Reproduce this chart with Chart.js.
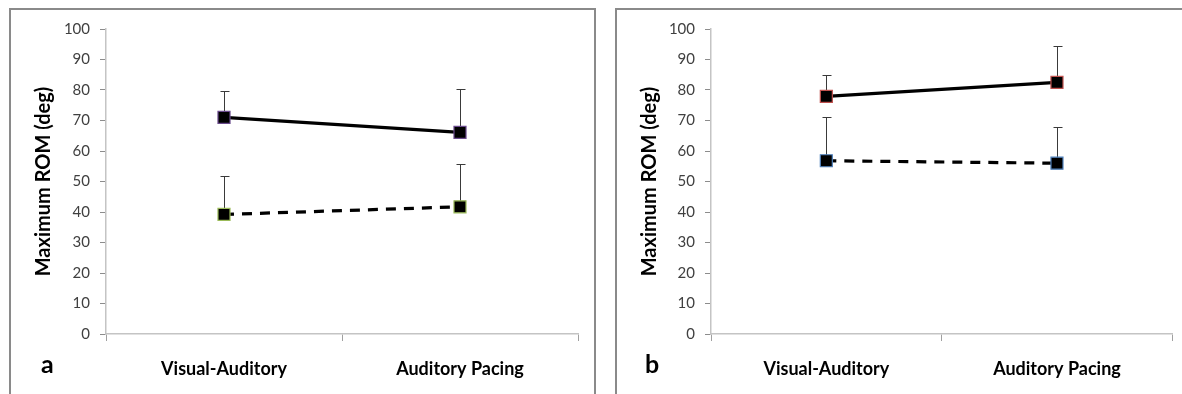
<!DOCTYPE html>
<html lang="en">
<head>
  <meta charset="UTF-8" />
  <title>Maximum ROM</title>
  <script src="https://cdn.jsdelivr.net/npm/chart.js"></script>
  <style>
    body {
      margin: 0;
      width: 1182px;
      height: 394px;
      overflow: hidden;
      background: #ffffff;
      font-family: Lato, "Open Sans", sans-serif;
      position: relative;
    }

    .panel {
      position: absolute;
      top: 8px;
      height: 400px;
      border-top: 2px solid #8a8a8a;
      border-left: 2px solid #8a8a8a;
      box-sizing: border-box;
    }

    #panelA { left: 9px; width: 587px; border-right: 2px solid #8a8a8a; }
    #panelB { left: 615px; width: 580px; }

    canvas { position: absolute; }
    #chartA { left: 12px; top: 10px; }
    #chartB { left: 618px; top: 10px; }

    .tag {
      position: absolute;
      font-weight: bold;
      font-size: 25px;
      color: #000;
      top: 348px;
    }
  </style>
</head>
<body>
  <div class="panel" id="panelA"></div>
  <div class="panel" id="panelB"></div>
  <canvas id="chartA" width="583" height="384"></canvas>
  <canvas id="chartB" width="564" height="384"></canvas>
  <div class="tag" style="left: 41px;">a</div>
  <div class="tag" style="left: 645px;">b</div>

  <script>
    const conditions = ['Visual-Auditory', 'Auditory Pacing'];
    const yTitle = 'Maximum ROM (deg)';

    // panel a
    const aSolid = [71.0, 66.1];
    const aSolidSd = [8.8, 14.1];
    const aDashed = [39.2, 41.7];
    const aDashedSd = [12.7, 14.0];

    // panel b
    const bSolid = [77.9, 82.5];
    const bSolidSd = [6.9, 12.0];
    const bDashed = [56.8, 56.0];
    const bDashedSd = [14.2, 11.9];

    // upward-only error bars, drawn under the markers
    const errorBars = {
      id: 'errorBars',
      beforeDatasetsDraw(chart) {
        const ctx = chart.ctx;
        const yScale = chart.scales.y;
        chart.data.datasets.forEach((ds, i) => {
          chart.getDatasetMeta(i).data.forEach((pt, j) => {
            const top = Math.round(yScale.getPixelForValue(ds.data[j] + ds.errors[j])) + 0.5;
            const x = Math.round(pt.x) + 0.5;
            ctx.save();
            ctx.strokeStyle = '#3a3a3a';
            ctx.lineWidth = 1;
            ctx.beginPath();
            ctx.moveTo(x, pt.y);
            ctx.lineTo(x, top);
            ctx.moveTo(x - 4, top);
            ctx.lineTo(x + 5, top);
            ctx.stroke();
            ctx.restore();
          });
        });
      }
    };

    function makeChart(id, solid, solidSd, dashed, dashedSd, solidEdge, dashedEdge, yWidth, rightPad) {
      return new Chart(document.getElementById(id).getContext('2d'), {
        type: 'line',
        data: {
          labels: conditions,
          datasets: [
            {
              data: solid, errors: solidSd,
              borderColor: '#000', borderWidth: 3.2,
              pointStyle: 'rect', pointRadius: 8.5,
              pointBackgroundColor: '#000', pointBorderColor: solidEdge, pointBorderWidth: 1.2
            },
            {
              data: dashed, errors: dashedSd,
              borderColor: '#000', borderWidth: 3.2, borderDash: [10, 8],
              pointStyle: 'rect', pointRadius: 8.5,
              pointBackgroundColor: '#000', pointBorderColor: dashedEdge, pointBorderWidth: 1.2
            }
          ]
        },
        options: {
          responsive: false,
          animation: false,
          layout: { padding: { left: 0, right: rightPad, top: 19, bottom: 0 } },
          plugins: { legend: { display: false }, tooltip: { enabled: false } },
          scales: {
            x: {
              offset: true,
              grid: { offset: true, drawOnChartArea: false, tickLength: 7, color: '#a0a0a0' },
              border: { color: '#c4c4c4', width: 1.5 },
              ticks: { padding: 17, color: '#000', font: { family: 'Lato', size: 18, weight: 'bold' } },
              afterFit: s => { s.height = 60; }
            },
            y: {
              min: 0, max: 100,
              ticks: { stepSize: 10, padding: 10, color: '#404040', font: { family: 'Lato', size: 15 } },
              grid: { drawOnChartArea: false, tickLength: 6, color: '#8c8c8c' },
              border: { color: '#c4c4c4', width: 1.5 },
              title: {
                display: true, text: yTitle, color: '#000',
                font: { family: 'Lato', size: 20, weight: 'bold' },
                padding: { top: 20, bottom: 0 }
              },
              afterFit: s => { s.width = yWidth; }
            }
          }
        },
        plugins: [errorBars]
      });
    }

    makeChart('chartA', aSolid, aSolidSd, aDashed, aDashedSd, '#6a4a8c', '#9bbb59', 94, 17);
    makeChart('chartB', bSolid, bSolidSd, bDashed, bDashedSd, '#c0504d', '#4f81bd', 93, 8);
  </script>
</body>
</html>
